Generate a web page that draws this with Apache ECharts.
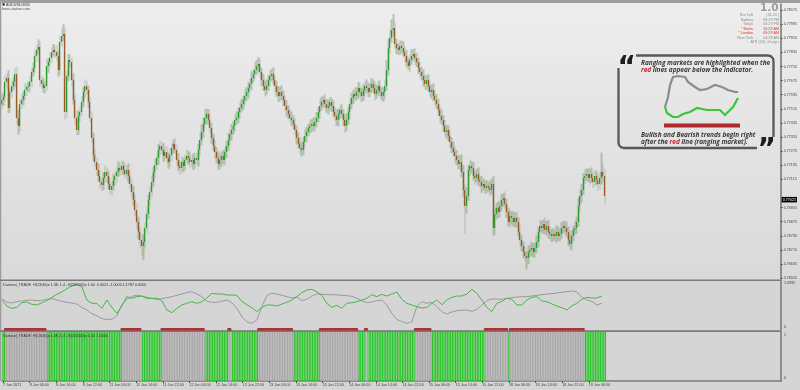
<!DOCTYPE html>
<html><head><meta charset="utf-8">
<script src="https://cdn.jsdelivr.net/npm/echarts@6/dist/echarts.min.js"></script>
<style>html,body{margin:0;padding:0;background:#d5d5d5;}#c{width:800px;height:390px;}</style>
</head><body><div id="c"></div>
<script>
// ---------- DATA ----------
const firstOpen = 0.77540;
// M30 closes, AUDUSD
const closes = [
.77565,.77582,.77667,.77690,.77520,.77610,.77644,.77667,.77712,.77463,
.77418,.77542,.77565,.77588,.77622,.77639,.77644,.77667,.77724,.77746,
.77815,.77849,.77866,.77678,.77656,.77633,.77644,.77758,.77780,.77803,
.77837,.77849,.77837,.77815,.77735,.77894,.77928,.77939,.77497,.77701,
.77792,.77780,.77678,.77565,.77463,.77395,.77474,.77497,.77554,.77610,
.77644,.77622,.77554,.77463,.77350,.77253,.77213,.77168,.77134,.77100,
.77083,.77123,.77157,.77134,.77089,.77055,.77077,.77111,.77134,.77157,
.77179,.77168,.77191,.77168,.77145,.77168,.77134,.77089,.77043,.76998,
.76941,.76873,.76817,.76771,.76737,.76760,.76839,.76919,.76998,.77043,
.77100,.77157,.77196,.77236,.77282,.77304,.77282,.77248,.77270,.77236,
.77213,.77253,.77293,.77316,.77282,.77225,.77191,.77179,.77213,.77191,
.77225,.77248,.77236,.77213,.77225,.77202,.77236,.77225,.77282,.77338,
.77384,.77429,.77463,.77486,.77452,.77406,.77350,.77304,.77270,.77236,
.77202,.77225,.77248,.77225,.77270,.77304,.77338,.77372,.77395,.77418,
.77452,.77463,.77497,.77520,.77542,.77565,.77588,.77610,.77633,.77656,
.77690,.77712,.77735,.77758,.77769,.77724,.77678,.77644,.77622,.77644,
.77678,.77701,.77712,.77678,.77644,.77610,.77588,.77610,.77588,.77565,
.77531,.77508,.77486,.77463,.77452,.77429,.77395,.77350,.77316,.77293,
.77282,.77327,.77361,.77384,.77406,.77418,.77429,.77418,.77440,.77463,
.77497,.77531,.77554,.77565,.77542,.77520,.77531,.77554,.77531,.77497,
.77474,.77452,.77486,.77508,.77486,.77452,.77418,.77452,.77497,.77542,
.77576,.77599,.77588,.77610,.77633,.77610,.77588,.77622,.77644,.77633,
.77610,.77633,.77656,.77633,.77599,.77622,.77644,.77610,.77588,.77610,
.77644,.77735,.77860,.77917,.77962,.77973,.77883,.77860,.77849,.77871,
.77860,.77837,.77815,.77780,.77758,.77792,.77815,.77826,.77803,.77780,
.77746,.77724,.77701,.77678,.77656,.77678,.77644,.77610,.77622,.77588,
.77565,.77542,.77508,.77474,.77452,.77418,.77384,.77395,.77361,.77327,
.77293,.77270,.77248,.77225,.77202,.77213,.77157,.77055,.76964,.77021,
.77168,.77191,.77179,.77134,.77123,.77145,.77111,.77100,.77077,.77089,
.77066,.77077,.77066,.77055,.77089,.76839,.76919,.76953,.76930,.76964,
.76998,.77009,.76975,.76930,.76873,.76907,.76896,.76873,.76896,.76873,
.76817,.76771,.76737,.76703,.76681,.76669,.76703,.76715,.76726,.76703,
.76726,.76760,.76817,.76851,.76839,.76862,.76828,.76851,.76817,.76805,
.76794,.76805,.76794,.76817,.76794,.76805,.76839,.76851,.76839,.76817,
.76771,.76749,.76794,.76828,.76839,.76873,.76964,.77021,.77055,.77123,
.77134,.77145,.77123,.77145,.77123,.77100,.77134,.77111,.77089,.77123,
.77157,.77134,.77021];
// upper / lower shadow length of each candle, in points (0.00001)
const wickUp = [
32,25,38,28,45,22,30,26,34,40,48,28,32,24,36,22,28,34,25,30,
36,28,42,30,26,34,28,38,24,30,28,34,25,40,30,36,42,55,36,28,
34,30,26,38,28,44,30,25,34,28,38,30,24,28,38,30,34,28,38,30,
28,34,40,25,30,38,28,34,25,30,38,28,34,25,30,28,38,25,30,34,
28,38,30,25,34,44,30,38,28,34,40,30,38,28,34,30,25,38,28,34,
30,38,28,25,34,30,38,28,34,25,30,38,28,34,25,38,30,28,34,38,
44,38,50,30,28,38,30,25,34,28,38,30,25,34,28,30,38,28,34,25,
30,38,28,34,30,25,38,28,34,30,38,28,44,34,40,30,25,34,28,38,
30,34,28,38,25,30,34,28,38,30,25,34,28,30,38,28,34,25,30,38,
34,28,38,30,25,34,28,38,30,34,28,38,30,25,34,28,38,30,25,34,
28,38,30,25,34,28,30,38,28,34,30,25,38,28,34,30,25,34,28,38,
30,28,34,25,38,30,28,34,30,25,38,55,50,44,60,80,38,30,28,34,
30,38,28,34,25,30,38,28,34,30,25,34,28,38,30,25,34,28,30,38,
28,34,30,25,38,28,34,30,25,34,28,38,30,34,28,38,44,38,34,50,
30,38,28,34,25,30,38,28,34,30,25,34,28,38,30,44,34,28,38,30,
34,28,38,30,25,34,28,38,30,34,28,38,30,25,34,28,38,30,34,28,
30,38,28,34,30,25,38,28,34,30,28,34,25,38,30,28,34,30,25,38,
30,28,34,25,38,30,44,38,34,28,38,30,34,28,38,30,34,28,38,34,
110,50,38];
const wickDn = [
28,34,25,38,30,28,34,25,30,38,50,34,28,30,25,34,28,38,30,25,
28,34,25,38,30,28,34,25,38,30,28,25,34,28,38,30,25,28,42,34,
30,28,34,25,38,30,28,34,25,30,38,28,34,25,30,38,28,34,30,38,
34,28,25,38,30,28,34,25,30,38,28,34,25,30,28,34,38,28,34,30,
34,38,42,44,55,80,38,30,28,34,30,25,34,28,38,30,28,34,25,30,
38,28,34,30,25,34,28,38,30,34,28,25,38,30,28,34,25,30,38,28,
30,34,28,38,25,30,34,28,38,30,34,28,38,25,30,34,28,30,38,28,
34,28,30,38,25,34,28,30,38,28,34,25,30,28,38,30,34,28,38,30,
28,34,30,25,38,28,34,30,25,34,28,38,30,25,34,28,30,38,28,34,
38,30,28,34,25,30,38,28,34,30,25,38,28,34,30,28,38,25,34,30,
28,34,38,30,25,34,40,30,28,38,30,34,28,25,38,30,34,28,38,30,
28,34,30,25,38,28,34,30,25,34,38,28,30,34,28,38,30,34,28,30,
34,28,38,30,25,34,28,30,38,28,34,30,25,38,28,34,30,28,38,30,
34,28,30,38,25,34,28,38,30,34,28,25,38,30,28,34,30,38,160,44,
28,34,30,25,38,28,34,30,38,28,34,30,25,34,28,44,38,30,34,28,
30,38,28,34,25,30,38,28,34,30,25,38,30,34,28,65,34,28,38,30,
34,28,30,38,25,34,28,30,38,28,34,30,25,38,28,34,30,28,38,30,
34,28,38,30,25,34,28,30,38,28,34,30,25,38,28,34,30,28,38,30,
38,34,50];
const priceTicks = [0.76555,0.76635,0.76715,0.76795,0.76875,0.76955,0.77115,0.77195,0.77275,
  0.77355,0.77435,0.77515,0.77595,0.77675,0.77755,0.77835,0.77915,0.77995,0.78075];
const timeLabels = ["7 Jan 2021","8 Jan 06:00","8 Jan 14:00","8 Jan 22:00","11 Jan 06:00","11 Jan 14:00",
  "11 Jan 22:00","12 Jan 06:00","12 Jan 14:00","12 Jan 22:00","13 Jan 06:00","13 Jan 14:00","13 Jan 22:00",
  "14 Jan 06:00","14 Jan 14:00","14 Jan 22:00","15 Jan 06:00","15 Jan 14:00","15 Jan 22:00","18 Jan 06:00",
  "18 Jan 14:00","18 Jan 22:00","19 Jan 06:00"];
const labelStep = 16;      // bars between time labels
const signalStep = 3;      // bars between stored indicator samples
// Damiani volatility lines (one sample every 3 bars)
const damianiGreen = [
1.040,0.832,0.751,0.786,0.948,0.971,0.890,0.867,0.948,1.017,
1.133,1.237,1.318,1.433,1.526,1.584,1.503,1.040,0.925,0.925,
0.751,1.040,0.786,0.578,0.832,1.156,1.098,1.156,1.179,1.098,
1.098,1.098,1.017,0.694,0.601,0.751,0.867,0.925,0.983,0.925,
0.983,1.110,1.272,1.248,1.248,1.214,1.214,1.202,0.994,0.879,
0.775,0.636,0.786,0.867,0.867,0.832,0.902,0.960,1.040,1.156,
1.295,1.387,1.410,1.329,1.202,0.925,0.786,0.856,0.751,0.925,
0.948,0.983,1.029,1.098,1.225,1.156,1.237,1.179,1.249,1.318,
1.064,0.925,0.867,0.809,0.763,0.786,0.925,1.040,0.879,1.040,
1.133,1.179,1.179,1.249,1.410,1.272,1.040,0.786,0.636,0.925,
0.994,1.098,1.064,0.867,0.867,1.040,1.133,1.156,1.006,0.983,
0.902,0.832,0.775,0.694,0.832,0.925,1.064,1.133,1.110,1.110,
1.179];
const damianiGray = [
1.098,0.960,0.936,0.983,1.006,1.029,1.040,1.017,1.029,1.064,
1.087,1.040,0.994,0.960,0.936,0.902,0.786,0.694,0.567,0.497,
0.393,0.370,0.370,0.486,0.879,1.064,1.168,1.202,1.179,1.133,
1.098,1.064,1.087,1.121,1.156,1.202,1.249,1.295,1.329,1.249,
1.156,0.994,0.960,0.960,0.994,1.040,0.948,0.751,0.462,0.289,
0.231,0.347,0.809,1.191,1.272,1.249,1.202,1.156,1.110,1.145,
1.017,1.064,1.179,1.249,1.237,1.225,1.225,1.214,1.202,1.191,
1.168,1.098,1.017,0.948,0.971,1.017,1.040,0.867,0.578,0.370,
0.289,0.231,0.278,0.809,0.983,0.925,0.960,0.809,0.636,0.555,
0.624,0.671,0.682,0.694,0.647,0.717,0.867,1.017,1.075,1.075,
1.064,1.098,1.121,1.145,1.156,1.156,1.179,1.202,1.225,1.249,
1.260,1.283,1.306,1.329,1.353,1.318,1.133,1.040,0.994,0.867,
0.925];
const panel1Max = 1.6992;
// ranging periods [first bar, last bar]
const rangeBlocks = [[2,26],[72,83],[96,121],[136,137],[154,174],[191,213],[218,219],[248,257],[290,303],[305,349]];
const totalSlots = 468;

// ---------- BUILD ----------
const cats = Array.from({length: totalSlots}, (_, i) => 'b' + i);
const bodies = [], shadows = [];
closes.forEach((c, i) => {
  const o = i === 0 ? firstOpen : closes[i - 1];
  const hi = Math.max(o, c) + wickUp[i] * 1e-5;
  const lo = Math.min(o, c) - wickDn[i] * 1e-5;
  bodies.push([o, c, Math.min(o, c), Math.max(o, c)]);
  shadows.push([lo, hi, lo, hi]);
});
const lastClose = closes[closes.length - 1];
const hist = closes.map((_, i) => {
  const r = rangeBlocks.some(([s, e]) => i >= s && i <= e);
  return {value: 1, itemStyle: {color: r ? '#a8a8a8' : '#2cc62c'}};
});
const isLbl = (i) => i % labelStep === 0 && i / labelStep < timeLabels.length;

const F = '"Liberation Sans", Arial, sans-serif';
const small = 3.7;
function txt(x, y, text, opt) {
  opt = opt || {};
  return {type: 'text', x: x, y: y, z: 100, silent: true,
    style: Object.assign({text: text, font: (opt.font || (small + 'px ' + F)), fill: opt.fill || '#444',
      textAlign: opt.align || 'left', align: opt.align || 'left',
      textVerticalAlign: opt.va || 'middle', verticalAlign: opt.va || 'middle'}, opt.extra || {})};
}
const noteFont = 'italic bold 6.45px "Open Sans", sans-serif';
const noteRich = {r: {fill: '#c4262b', font: noteFont}};
const bgGrad = {type: 'linear', x: 0, y: 0, x2: 0, y2: 1, colorStops: [{offset: 0, color: '#ededed'}, {offset: 1, color: '#d9d9d9'}]};

const graphic = [
  {type: 'rect', z: -10, silent: true, shape: {x: 0, y: 3, width: 800, height: 277}, style: {fill: bgGrad}},
  {type: 'rect', z: 50, silent: true, shape: {x: 0, y: 0, width: 800, height: 3}, style: {fill: '#9d9d9d'}},
  {type: 'rect', z: 50, silent: true, shape: {x: 0, y: 3, width: 1.3, height: 378}, style: {fill: '#9d9d9d'}},
  {type: 'rect', z: 50, silent: true, shape: {x: 0, y: 279.4, width: 781.5, height: 1.6}, style: {fill: '#7b7b7b'}},
  {type: 'rect', z: 50, silent: true, shape: {x: 0, y: 330.3, width: 781.5, height: 1.6}, style: {fill: '#7b7b7b'}},
  // header
  {type: 'rect', z: 100, silent: true, shape: {x: 2.5, y: 3.3, width: 2.2, height: 2.2}, style: {fill: '#222'}},
  txt(6, 4.5, 'AUDUSD,M30', {fill: '#333'}),
  txt(2, 8.5, 'forex-station.com', {fill: '#555'}),
  // panel captions
  txt(3, 284.5, 'Damiani_TRADE  H(13/40)= 1.38, 1.4 - B(20/100)= 1.00  0.0023 -1.0000 1.1787 0.0000', {fill: '#333'}),
  txt(3, 335.5, 'Damiani_TRADE  H(13/40)= 1.38, 1.4 - B(20/100)= 1.00  1.0000', {fill: '#333'}),
  // info block
  txt(778.5, 3, '1.0', {font: 'bold 10.5px "DejaVu Sans", sans-serif', fill: '#9d9d9d', align: 'right', va: 'top'}),
  txt(753, 15, 'Bar Left', {fill: '#8e8e8e', align: 'right'}), txt(779, 15, '[ 01:26 ]', {fill: '#8e8e8e', align: 'right'}),
  txt(753, 19.5, 'Sydney', {fill: '#8e8e8e', align: 'right'}), txt(779, 19.5, '08:29 PM', {fill: '#8e8e8e', align: 'right'}),
  txt(753, 24, 'Tokyo', {fill: '#8e8e8e', align: 'right'}), txt(779, 24, '06:29 PM', {fill: '#8e8e8e', align: 'right'}),
  txt(753, 28.5, '* Berlin', {fill: '#e23131', align: 'right'}), txt(779, 28.5, '10:29 AM', {fill: '#e23131', align: 'right'}),
  txt(753, 33, '* London', {fill: '#e23131', align: 'right'}), txt(779, 33, '09:29 AM', {fill: '#e23131', align: 'right'}),
  txt(753, 37.5, 'New York', {fill: '#8e8e8e', align: 'right'}), txt(779, 37.5, '04:29 AM', {fill: '#8e8e8e', align: 'right'}),
  txt(779, 42, 'ATR (20): 16 pips', {fill: '#8e8e8e', align: 'right'}),
  // annotation box
  {type: 'polyline', z: 100, silent: true, shape: {points: [[636,55.5],[768,55.5],[771,56.3],[773,58.5],[773.5,61],[773.5,137]]},
   style: {stroke: '#585858', lineWidth: 2.3, fill: null}},
  {type: 'polyline', z: 100, silent: true, shape: {points: [[757,148],[624,148],[621,147.2],[619,145],[618.5,142.5],[618.5,68]]},
   style: {stroke: '#585858', lineWidth: 2.3, fill: null}},
  txt(617.5, 68.5, '\u201C', {font: 'bold 28px "DejaVu Sans", sans-serif', fill: '#1e1e1e'}),
  txt(757.5, 150.5, '\u201D', {font: 'bold 28px "DejaVu Sans", sans-serif', fill: '#1e1e1e'}),
  txt(641, 63, 'Ranging markets are highlighted when the', {font: noteFont, fill: '#3a3a3a'}),
  txt(641, 70.5, '{r|red} lines appear below the indicator.', {font: noteFont, fill: '#3a3a3a', extra: {rich: noteRich}}),
  txt(641, 135, 'Bullish and Bearish trends begin right', {font: noteFont, fill: '#3a3a3a'}),
  txt(641, 142.5, 'after the {r|red} line (ranging market).', {font: noteFont, fill: '#3a3a3a', extra: {rich: noteRich}}),
  {type: 'polyline', z: 100, silent: true, shape: {points: [[665,107],[668,97],[670,85],[673,77],[678,76],[685,77],[688,82],[695,87],[700,90],[707,89],[715,85],[722,87],[728,90],[735,92],[738,92]]},
   style: {stroke: '#8c8c8c', lineWidth: 2.2, fill: null}},
  {type: 'polyline', z: 100, silent: true, shape: {points: [[665,107],[667,113],[673,117],[678,117],[683,114],[690,112],[697,108],[707,110],[720,110],[725,115],[728,112],[733,107],[738,98]]},
   style: {stroke: '#3cc43c', lineWidth: 2.2, fill: null}},
  {type: 'rect', z: 100, silent: true, shape: {x: 664, y: 123.5, width: 76, height: 4}, style: {fill: '#b0282a'}}
];

const gridBase = {left: 1, right: 19, containLabel: false};
const xBase = {type: 'category', data: cats, boundaryGap: true};
const yLabel = {fontSize: small, color: '#444', margin: 3, fontFamily: 'Liberation Sans'};

const option = {
  animation: false,
  backgroundColor: 'transparent',
  grid: [
    Object.assign({top: 4, height: 275}, gridBase),
    Object.assign({top: 281, height: 49}, gridBase),
    Object.assign({top: 332, height: 49}, gridBase)
  ],
  xAxis: [
    Object.assign({gridIndex: 0, show: false}, xBase),
    Object.assign({gridIndex: 1, show: false}, xBase),
    Object.assign({gridIndex: 2, show: true,
      axisLine: {show: true, lineStyle: {color: '#7b7b7b', width: 1.6}},
      axisTick: {show: true, interval: isLbl, alignWithLabel: true, length: 2, lineStyle: {color: '#555'}},
      axisLabel: {interval: isLbl, formatter: (v, i) => timeLabels[i / labelStep], align: 'left',
        fontSize: small, color: '#444', margin: 2, fontFamily: 'Liberation Sans'},
      splitLine: {show: false}}, xBase)
  ],
  yAxis: [
    {gridIndex: 0, type: 'value', position: 'right', min: 0.765502, max: 0.781093, scale: true,
     axisLine: {show: true, lineStyle: {color: '#7b7b7b', width: 1.6}},
     axisTick: {show: true, length: 2, customValues: priceTicks, lineStyle: {color: '#555'}},
     axisLabel: Object.assign({customValues: priceTicks, formatter: v => v.toFixed(5)}, yLabel),
     splitLine: {show: false}},
    {gridIndex: 1, type: 'value', position: 'right', min: 0, max: panel1Max,
     axisLine: {show: true, lineStyle: {color: '#7b7b7b', width: 1.6}},
     axisTick: {show: false},
     axisLabel: Object.assign({customValues: [0, panel1Max],
       formatter: v => v === 0 ? '{lo|0}' : '{hi|' + panel1Max.toFixed(4) + '}',
       rich: {lo: {fontSize: small, color: '#444', padding: [0, 0, 6, 0]}, hi: {fontSize: small, color: '#444', padding: [4, 0, 0, 0]}}}, yLabel),
     splitLine: {show: false}},
    {gridIndex: 2, type: 'value', position: 'right', min: 0, max: 1,
     axisLine: {show: true, lineStyle: {color: '#7b7b7b', width: 1.6}},
     axisTick: {show: false},
     axisLabel: Object.assign({customValues: [0, 1],
       formatter: v => v === 0 ? '{lo|0}' : '{hi|1}',
       rich: {lo: {fontSize: small, color: '#444', padding: [0, 0, 6, 0]}, hi: {fontSize: small, color: '#444', padding: [5, 0, 0, 0]}}}, yLabel),
     splitLine: {show: false}}
  ],
  graphic: graphic,
  series: [
    {type: 'candlestick', xAxisIndex: 0, yAxisIndex: 0, data: shadows, barWidth: 2, silent: true, z: 2,
     itemStyle: {color: 'rgba(112,148,112,0.45)', color0: 'rgba(112,148,112,0.45)', borderColor: 'rgba(0,0,0,0)', borderColor0: 'rgba(0,0,0,0)', borderWidth: 0}},
    {type: 'candlestick', xAxisIndex: 0, yAxisIndex: 0, data: bodies, barWidth: 1, silent: true, z: 3,
     itemStyle: {color: '#2f9c2f', color0: '#9c5a28', borderColor: '#2f9c2f', borderColor0: '#9c5a28', borderWidth: 1.3},
     markLine: {silent: true, symbol: ['none', 'none'], lineStyle: {color: 'rgba(0,0,0,0)', width: 0},
       label: {show: true, position: 'end', distance: 1, formatter: lastClose.toFixed(5), backgroundColor: '#000', color: '#fff',
         fontSize: small, padding: [1, 1, 0.5, 1], fontFamily: 'Liberation Sans'},
       data: [{yAxis: lastClose}]}},
    {type: 'line', xAxisIndex: 1, yAxisIndex: 1, data: damianiGray.map((v, k) => [k * signalStep, v]),
     symbol: 'none', lineStyle: {color: '#9a9a9a', width: 1}, silent: true, z: 3},
    {type: 'line', xAxisIndex: 1, yAxisIndex: 1, data: damianiGreen.map((v, k) => [k * signalStep, v]),
     symbol: 'none', lineStyle: {color: '#42b942', width: 1}, silent: true, z: 4},
    {type: 'custom', xAxisIndex: 1, yAxisIndex: 1, silent: true, z: 60,
     data: rangeBlocks.map(b => [b[0], b[1], 0.02]), encode: {x: [0, 1], y: 2},
     renderItem: (params, api) => {
       const a = api.coord([api.value(0), api.value(2)]);
       const b = api.coord([api.value(1), api.value(2)]);
       return {type: 'line', shape: {x1: a[0], y1: a[1], x2: b[0], y2: b[1]},
         style: {stroke: '#a83434', lineWidth: 2.8, lineCap: 'round'}};
     }},
    {type: 'bar', xAxisIndex: 2, yAxisIndex: 2, data: hist, barCategoryGap: '22%', silent: true, z: 2}
  ]
};
const chart = echarts.init(document.getElementById('c'), null, {renderer: 'canvas'});
chart.setOption(option);
</script></body></html>
